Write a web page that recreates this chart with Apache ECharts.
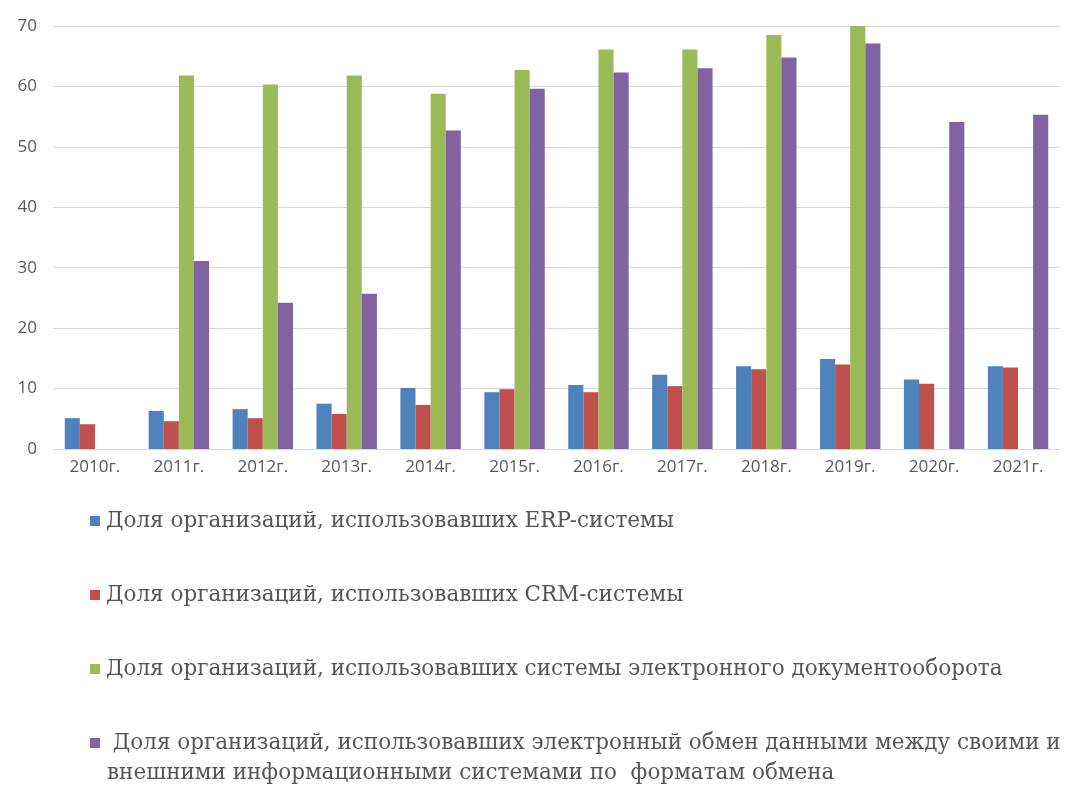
<!DOCTYPE html>
<html>
<head>
<meta charset="utf-8">
<script src="https://cdn.jsdelivr.net/npm/echarts@6/dist/echarts.min.js"></script>
<style>
  html, body { margin: 0; padding: 0; background: #fff; }
  #chart { width: 1075px; height: 799px; }
</style>
</head>
<body>
<div id="chart"></div>
<script>
// Years on the category axis
const years = ['2010г.', '2011г.', '2012г.', '2013г.', '2014г.', '2015г.', '2016г.', '2017г.', '2018г.', '2019г.', '2020г.', '2021г.'];

// Share of organisations, %
const erp = [5.1, 6.3, 6.6, 7.5, 10.1, 9.4, 10.6, 12.3, 13.7, 14.9, 11.5, 13.7];
const crm = [4.1, 4.6, 5.1, 5.8, 7.3, 9.9, 9.4, 10.4, 13.2, 14.0, 10.8, 13.5];
const edo = [null, 61.8, 60.3, 61.8, 58.8, 62.7, 66.1, 66.1, 68.5, 70.0, null, null];
const edi = [null, 31.1, 24.2, 25.7, 52.7, 59.6, 62.3, 63.0, 64.8, 67.1, 54.1, 55.3];

// Value axis ticks
const yTicks = [0, 10, 20, 30, 40, 50, 60, 70];

// Series names (legend text)
const names = [
  'Доля организаций, использовавших ERP-системы',
  'Доля организаций, использовавших CRM-системы',
  'Доля организаций, использовавших системы электронного документооборота',
  ' Доля организаций, использовавших электронный обмен данными между своими и'
];
// continuation of the last legend entry, on its own line
const lastNameTail = 'внешними информационными системами по  форматам обмена';

const colors = ['#4F81BD', '#C0504D', '#9BBB59', '#8064A2'];
const values = [erp, crm, edo, edi];

const legendFont = 'DejaVu Serif';
const legendSize = 21.5;
const legendColor = '#555555';

const chart = echarts.init(document.getElementById('chart'));

chart.setOption({
  animation: false,
  backgroundColor: '#ffffff',
  color: colors,
  grid: { left: 53, right: 15, top: 26, bottom: 350, containLabel: false },
  xAxis: {
    type: 'category',
    data: years,
    axisLine: { show: true, lineStyle: { color: '#D9D9D9', width: 1 } },
    axisTick: { show: false },
    axisLabel: { color: '#595959', fontFamily: 'Open Sans', fontSize: 17, margin: 10 }
  },
  yAxis: {
    type: 'value',
    min: yTicks[0],
    max: yTicks[yTicks.length - 1],
    interval: yTicks[1] - yTicks[0],
    axisLine: { show: false },
    axisTick: { show: false },
    axisLabel: { color: '#595959', fontFamily: 'Open Sans', fontSize: 17, margin: 16 },
    splitLine: { lineStyle: { color: '#D9D9D9', width: 1 } }
  },
  legend: {
    orient: 'vertical',
    left: 85,
    top: 504,
    itemWidth: 10,
    itemHeight: 10,
    itemGap: 50,
    icon: 'rect',
    selectedMode: false,
    textStyle: { color: legendColor, fontFamily: legendFont, fontSize: legendSize, lineHeight: 24, padding: [0, 0, 0, 1] },
    data: names
  },
  graphic: [{
    type: 'text',
    x: 107,
    y: 773,
    style: {
      text: lastNameTail,
      fill: legendColor,
      font: legendSize + 'px "' + legendFont + '"',
      verticalAlign: 'middle'
    }
  }],
  series: values.map((v, i) => ({
    name: names[i],
    type: 'bar',
    data: v,
    barGap: '0%',
    barCategoryGap: '28%',
    itemStyle: { color: colors[i] }
  }))
});
</script>
</body>
</html>
